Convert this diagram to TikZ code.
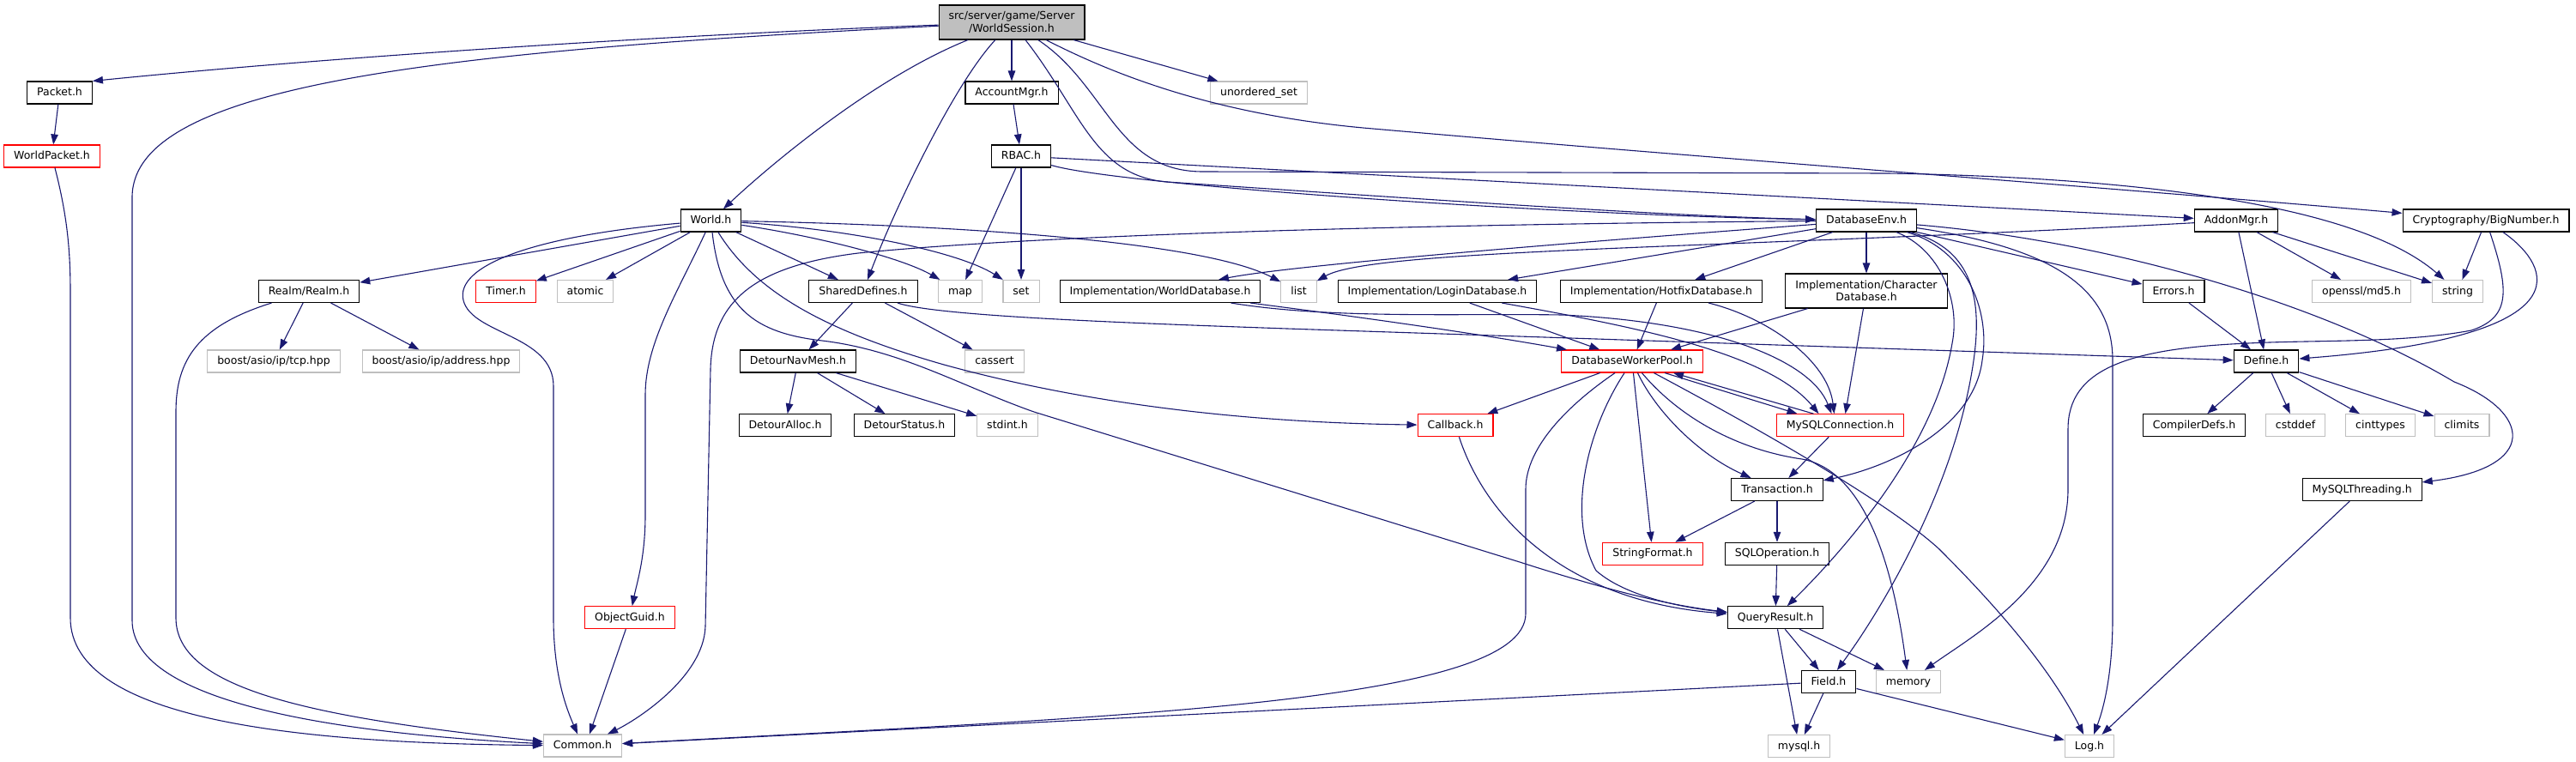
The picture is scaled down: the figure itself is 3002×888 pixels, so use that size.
\documentclass[tikz,border=0pt]{standalone}
\usepackage{fontspec}
\setmainfont{DejaVu Sans}
\usetikzlibrary{arrows.meta}
\definecolor{edgeblue}{HTML}{191970}
\definecolor{extgray}{HTML}{BFBFBF}
\begin{document}
\begin{tikzpicture}[x=1pt,y=-1pt,
  file/.style={draw=black,line width=1.1pt,fill=white,inner xsep=11.5pt,inner ysep=0pt,minimum height=26pt,text height=9.5pt,text depth=2.5pt,font=\fontsize{12.5}{14.5}\selectfont},
  redfile/.style={file,draw=red},
  extfile/.style={file,draw=extgray},
  twoline/.style={align=center,text height=,text depth=,minimum height=40pt},
  edge/.style={draw=edgeblue,line width=1.1pt,-{Triangle[length=12pt,width=8.5pt]}}]
\useasboundingbox (0,0) rectangle (3002,888);
\node[file,twoline,fill=extgray] (ws) at (1179,26) {src/server/game/Server\\/WorldSession.h};
\node[file] (packet) at (69.5,108) {Packet.h};
\node[redfile] (worldpacket) at (60.5,182) {WorldPacket.h};
\node[file] (accountmgr) at (1179,108) {AccountMgr.h};
\node[extfile] (unorderedset) at (1467,108) {unordered\_set};
\node[file] (rbac) at (1190,182) {RBAC.h};
\node[file] (world) at (828.5,257) {World.h};
\node[file] (dbenv) at (2175,257) {DatabaseEnv.h};
\node[file] (addonmgr) at (2606,257) {AddonMgr.h};
\node[file] (bignumber) at (2897,257) {Cryptography/BigNumber.h};
\node[file] (realm) at (360,339.5) {Realm/Realm.h};
\node[redfile] (timer) at (589.5,339.5) {Timer.h};
\node[extfile] (atomic) at (682,339.5) {atomic};
\node[file] (shareddefs) at (1006,339.5) {SharedDefines.h};
\node[extfile] (map) at (1119,339.5) {map};
\node[extfile] (set) at (1190,339.5) {set};
\node[file] (worlddb) at (1352,339.5) {Implementation/WorldDatabase.h};
\node[extfile] (list) at (1513.5,339.5) {list};
\node[file] (logindb) at (1675,339.5) {Implementation/LoginDatabase.h};
\node[file] (hotfixdb) at (1936,339.5) {Implementation/HotfixDatabase.h};
\node[file,twoline] (chardb) at (2175,339) {Implementation/Character\\Database.h};
\node[file] (errors) at (2533,339.5) {Errors.h};
\node[extfile] (md5) at (2752,339.5) {openssl/md5.h};
\node[extfile] (string) at (2864,339.5) {string};
\node[extfile] (tcp) at (319,421) {boost/asio/ip/tcp.hpp};
\node[extfile] (address) at (514,421) {boost/asio/ip/address.hpp};
\node[file] (navmesh) at (930,421) {DetourNavMesh.h};
\node[extfile] (cassert) at (1159,421) {cassert};
\node[redfile] (dwp) at (1902,421) {DatabaseWorkerPool.h};
\node[file] (define) at (2641,421) {Define.h};
\node[file] (alloc) at (915,495.7) {DetourAlloc.h};
\node[file] (status) at (1054,495.7) {DetourStatus.h};
\node[extfile] (stdint) at (1174,495.7) {stdint.h};
\node[redfile] (callback) at (1696,495.7) {Callback.h};
\node[redfile] (mysqlconn) at (2144.5,495.7) {MySQLConnection.h};
\node[file] (compilerdefs) at (2557,495.7) {CompilerDefs.h};
\node[extfile] (cstddef) at (2675,495.7) {cstddef};
\node[extfile] (cinttypes) at (2774,495.7) {cinttypes};
\node[extfile] (climits) at (2869,495.7) {climits};
\node[file] (transaction) at (2071,570.5) {Transaction.h};
\node[file] (mysqlthreading) at (2752.6,570.5) {MySQLThreading.h};
\node[redfile] (stringformat) at (1926,645.3) {StringFormat.h};
\node[file] (sqloperation) at (2071,645.3) {SQLOperation.h};
\node[redfile] (objectguid) at (734,719.7) {ObjectGuid.h};
\node[file] (queryresult) at (2069,719.7) {QueryResult.h};
\node[file] (field) at (2131,794.5) {Field.h};
\node[extfile] (memory) at (2224,794.5) {memory};
\node[extfile] (common) at (679,869) {Common.h};
\node[extfile] (mysql) at (2096.6,869.5) {mysql.h};
\node[extfile] (log) at (2435,869.5) {Log.h};
\draw[edge] (ws) .. controls (800,40) and (400,65) .. (packet.north east);
\draw[edge] (ws) .. controls (500,60) and (154,100) .. (154,230) -- (154,723) .. controls (154,820) and (400,855) .. (common);
\draw[edge] (ws) .. controls (1020,90) and (900,190) .. (world);
\draw[edge] (ws) .. controls (1110,100) and (1040,250) .. (shareddefs);
\draw[edge] (ws) -- (accountmgr);
\draw[edge] (ws) -- (unorderedset);
\draw[edge] (ws) .. controls (1260,130) and (1275,205) .. (1360,212) .. controls (1700,235) and (1950,252) .. (dbenv);
\draw[edge] (ws) .. controls (1290,100) and (1300,199) .. (1400,200) -- (2200,202) .. controls (2500,207) and (2750,240) .. (string);
\draw[edge] (ws) .. controls (1300,88) and (1420,135) .. (1600,150) .. controls (2000,185) and (2500,222) .. (bignumber);
\draw[edge] (accountmgr) -- (rbac);
\draw[edge] (rbac) -- (addonmgr);
\draw[edge] (rbac) .. controls (1300,215) and (1800,250) .. (dbenv);
\draw[edge] (rbac) -- (map);
\draw[edge] (rbac) -- (set);
\draw[edge] (packet) -- (worldpacket);
\draw[edge] (worldpacket) .. controls (78,250) and (82,290) .. (82,340) -- (82,720) .. controls (82,840) and (350,866) .. (common);
\draw[edge] (realm) .. controls (230,380) and (205,420) .. (205,480) -- (205,720) .. controls (205,800) and (350,835) .. (common);
\draw[edge] (realm) -- (tcp);
\draw[edge] (realm) -- (address);
\draw[edge] (world) -- (realm);
\draw[edge] (world) -- (timer);
\draw[edge] (world) -- (atomic);
\draw[edge] (world) .. controls (620,275) and (530,310) .. (540,350) .. controls (550,390) and (645,390) .. (645,450) -- (645,720) .. controls (645,790) and (662,830) .. (common);
\draw[edge] (world) .. controls (790,340) and (752,400) .. (752,460) -- (752,600) .. controls (752,650) and (742,680) .. (objectguid);
\draw[edge] (world) -- (shareddefs);
\draw[edge] (world) .. controls (950,275) and (1050,300) .. (map);
\draw[edge] (world) .. controls (1000,268) and (1120,295) .. (set);
\draw[edge] (world) .. controls (1100,262) and (1400,280) .. (list);
\draw[edge] (world) .. controls (880,340) and (960,385) .. (1100,425) .. controls (1300,480) and (1500,493) .. (callback);
\draw[edge] (world) .. controls (840,360) and (880,388) .. (958,397) .. controls (1050,408) and (1120,450) .. (1205,480) -- (1771,655) .. controls (1880,690) and (1950,706) .. (queryresult);
\draw[edge] (objectguid) -- ([xshift=8pt]common.north);
\draw[edge] (shareddefs) -- (navmesh);
\draw[edge] (shareddefs) -- (cassert);
\draw[edge] (shareddefs) .. controls (1090,368) and (1300,376) .. (1500,383) -- (define);
\draw[edge] (navmesh) -- (alloc);
\draw[edge] (navmesh) -- (status);
\draw[edge] (navmesh) -- (stdint);
\draw[edge] (dbenv) .. controls (1600,262) and (1200,275) .. (1000,295) .. controls (880,310) and (830,350) .. (828,430) -- (822,730) .. controls (820,790) and (740,840) .. ([xshift=29pt]common.north);
\draw[edge] (dbenv) .. controls (1800,285) and (1500,310) .. (worlddb);
\draw[edge] (dbenv) -- (logindb);
\draw[edge] (dbenv) -- (hotfixdb);
\draw[edge] (dbenv) -- (chardb);
\draw[edge] (dbenv) -- (errors);
\draw[edge] (dbenv) .. controls (2450,280) and (2700,350) .. (2860,445) .. controls (2950,480) and (2960,545) .. (mysqlthreading);
\draw[edge] (dbenv) .. controls (2290,290) and (2320,360) .. (2310,420) .. controls (2300,500) and (2200,545) .. (transaction);
\draw[edge] (dbenv) .. controls (2260,290) and (2285,350) .. (2275,400) .. controls (2255,520) and (2150,640) .. (queryresult);
\draw[edge] (dbenv) .. controls (2300,290) and (2310,350) .. (2300,420) .. controls (2280,560) and (2200,700) .. (field);
\draw[edge] (dbenv) .. controls (2400,290) and (2462,340) .. (2462,420) -- (2462,720) .. controls (2462,800) and (2446,840) .. (log);
\draw[edge] (addonmgr) .. controls (2000,290) and (1600,290) .. (list);
\draw[edge] (addonmgr) -- (define);
\draw[edge] (addonmgr) -- (md5);
\draw[edge] (addonmgr) -- (string);
\draw[edge] (bignumber) -- (string);
\draw[edge] (bignumber) .. controls (2960,300) and (3040,390) .. (define);
\draw[edge] (bignumber) .. controls (2925,340) and (2925,370) .. (2880,385) .. controls (2800,400) and (2700,396) .. (2620,400) .. controls (2480,406) and (2410,430) .. (2410,500) -- (2410,570) .. controls (2410,680) and (2300,740) .. (memory);
\draw[edge] (errors) -- (define);
\draw[edge] (define) -- (compilerdefs);
\draw[edge] (define) -- (cstddef);
\draw[edge] (define) -- (cinttypes);
\draw[edge] (define) -- (climits);
\draw[edge] (worlddb) .. controls (1550,365) and (1700,385) .. (dwp);
\draw[edge] (worlddb) .. controls (1550,372) and (1700,365) .. (1820,367) .. controls (2000,375) and (2110,420) .. ([xshift=-10pt]mysqlconn.north);
\draw[edge] (logindb) -- (dwp);
\draw[edge] (logindb) .. controls (1900,380) and (2060,410) .. ([xshift=-25pt]mysqlconn.north);
\draw[edge] (hotfixdb) -- (dwp);
\draw[edge] (hotfixdb) .. controls (2060,370) and (2130,420) .. ([xshift=-7pt]mysqlconn.north);
\draw[edge] (chardb) -- (dwp);
\draw[edge] (chardb) -- ([xshift=6pt]mysqlconn.north);
\draw[edge] (dwp) -- (callback);
\draw[edge] (dwp) .. controls (1830,470) and (1778,520) .. (1778,570) -- (1778,715) .. controls (1778,820) and (1300,835) .. (common);
\draw[edge] (dwp) .. controls (1850,500) and (1825,600) .. (1860,665) .. controls (1900,700) and (1980,710) .. (queryresult);
\draw[edge] (dwp) -- (stringformat);
\draw[edge] (dwp) .. controls (1930,480) and (1980,530) .. (transaction);
\draw[edge] (dwp) .. controls (1960,490) and (2030,525) .. (2100,535) .. controls (2170,548) and (2205,650) .. (memory);
\draw[edge] (dwp) .. controls (2050,500) and (2200,585) .. (2260,640) .. controls (2330,710) and (2390,780) .. (log);
\draw[edge] ([xshift=38pt]dwp.south) -- ([xshift=-50pt]mysqlconn.north);
\draw[edge] ([xshift=-31pt]mysqlconn.north) -- ([xshift=48pt]dwp.south);
\draw[edge] (mysqlconn) -- (transaction);
\draw[edge] (transaction) -- (stringformat);
\draw[edge] (transaction) -- (sqloperation);
\draw[edge] (sqloperation) -- (queryresult);
\draw[edge] (callback) .. controls (1730,600) and (1820,700) .. (queryresult);
\draw[edge] (queryresult) -- (field);
\draw[edge] (queryresult) -- (memory);
\draw[edge] (queryresult) -- (mysql);
\draw[edge] (field) -- (mysql);
\draw[edge] (field) -- (common);
\draw[edge] (field) -- (log);
\draw[edge] (mysqlthreading) -- (log);
\end{tikzpicture}
\end{document}
